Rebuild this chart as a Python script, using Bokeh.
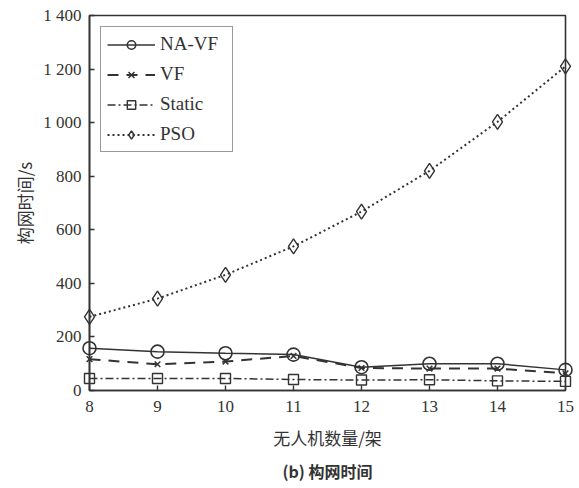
from bokeh.plotting import figure
from bokeh.models import (Range1d, FixedTicker, Legend, LegendItem, Title,
                          LinearAxis)
from bokeh.embed import file_html
from bokeh.resources import INLINE

# UAV count on the x axis, network build time (s) on the y axis
uav_counts = [8, 9, 10, 11, 12, 13, 14, 15]
na_vf = [158, 145, 139, 134, 87, 100, 100, 77]
vf = [117, 98, 108, 129, 84, 82, 82, 64]
static = [45, 45, 45, 41, 39, 40, 36, 34]
pso = [275, 343, 432, 538, 668, 820, 1003, 1210]

y_ticks = [0, 200, 400, 600, 800, 1000, 1200, 1400]
y_tick_labels = ["0", "200", "400", "600", "800", "1 000", "1 200", "1 400"]

INK = "#333333"
SERIF = "Liberation Serif"
CJK = "Noto Sans CJK SC"

p = figure(width=579, height=488, output_backend="svg", toolbar_location=None,
           x_range=Range1d(8, 15), y_range=Range1d(0, 1400),
           x_axis_type=None, y_axis_type=None,
           min_border_left=89, min_border_right=14, min_border_top=15,
           min_border_bottom=98)

p.grid.visible = False
p.outline_line_color = INK
p.outline_line_width = 1.6
p.background_fill_color = "white"
p.border_fill_color = "white"

axis_style = dict(
    axis_line_color=INK, axis_line_width=1.6,
    major_tick_line_color=INK, major_tick_line_width=1.4,
    major_tick_in=5, major_tick_out=0, minor_tick_line_color=None,
    major_label_text_font=SERIF, major_label_text_font_size="17px",
    major_label_text_color=INK,
    axis_label_text_font=CJK, axis_label_text_font_size="17px",
    axis_label_text_font_style="normal", axis_label_text_color=INK,
)

xaxis = LinearAxis(ticker=FixedTicker(ticks=uav_counts),
                   axis_label="无人机数量/架", major_label_standoff=10,
                   axis_label_standoff=10, **axis_style)
yaxis = LinearAxis(ticker=FixedTicker(ticks=y_ticks),
                   major_label_overrides={t: s for t, s in zip(y_ticks, y_tick_labels)},
                   axis_label="构网时间/s", major_label_standoff=8,
                   axis_label_standoff=3, **axis_style)
p.add_layout(xaxis, "below")
p.add_layout(yaxis, "left")

lw = 1.5
r1 = p.line(uav_counts, na_vf, line_color=INK, line_width=lw)
m1 = p.scatter(uav_counts, na_vf, marker="circle", size=13, line_color=INK,
               line_width=1.6, fill_color=None, level="overlay")

r2 = p.line(uav_counts, vf, line_color=INK, line_width=2.0, line_dash="11 8")
m2 = p.scatter(uav_counts, vf, marker="x", size=8, line_color=INK,
               line_width=1.5, level="overlay")

r3 = p.line(uav_counts, static, line_color=INK, line_width=lw,
            line_dash="8 3 2 3")
m3 = p.scatter(uav_counts, static, marker="square", size=10, line_color=INK,
               line_width=1.4, fill_color=None, level="overlay")

r4 = p.line(uav_counts, pso, line_color=INK, line_width=2.0, line_dash="2 3")
m4 = p.scatter(uav_counts, pso, marker="diamond", size=15, line_color=INK,
               line_width=1.4, fill_color=None, level="overlay")

legend = Legend(items=[
    LegendItem(label="NA-VF", renderers=[r1, m1]),
    LegendItem(label="VF", renderers=[r2, m2]),
    LegendItem(label="Static", renderers=[r3, m3]),
    LegendItem(label="PSO", renderers=[r4, m4]),
], location="top_left")
legend.margin = 11
legend.padding = 6
legend.spacing = 8
legend.glyph_width = 48
legend.glyph_height = 21
legend.label_height = 21
legend.label_width = 66
legend.label_standoff = 5
legend.label_text_font = SERIF
legend.label_text_font_size = "19px"
legend.label_text_color = INK
legend.border_line_color = INK
legend.border_line_width = 1.3
legend.background_fill_alpha = 1.0
p.add_layout(legend)

caption = Title(text="(b) 构网时间", align="center", text_font=CJK,
                text_font_size="16px", text_font_style="bold",
                text_color=INK, standoff=8)
p.add_layout(caption, "below")

open("out.html", "w").write(file_html(p, INLINE))
